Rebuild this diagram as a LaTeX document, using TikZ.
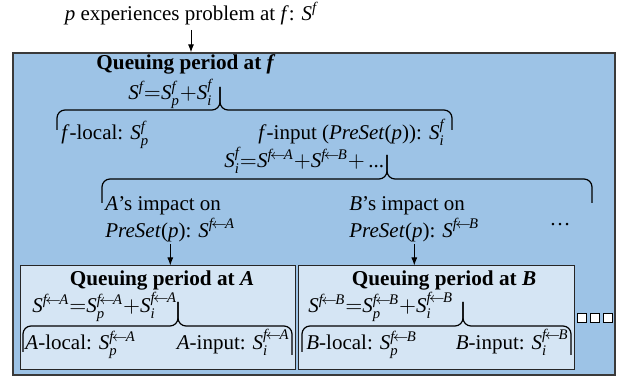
\documentclass[tikz,border=0pt]{standalone}
\usepackage{amsmath}
\usepackage{fontspec}
\setmainfont{Liberation Serif}
\usetikzlibrary{arrows.meta, positioning, fit}

\definecolor{outerblue}{HTML}{9DC3E6}
\definecolor{innerblue}{HTML}{D5E5F4}
\definecolor{edgegray}{HTML}{3A3A3A}

\newcommand{\mv}[1]{\textit{#1}}
\newcommand{\fA}{\mv{f}\mkern-2mu{\leftarrow}\mkern-2mu\mv{A}}
\newcommand{\fB}{\mv{f}\mkern-2mu{\leftarrow}\mkern-2mu\mv{B}}

\begin{document}
\begin{tikzpicture}[
    x=0.5pt, y=-0.5pt,
    every node/.style={font=\fontsize{10.5}{13.5}\selectfont, inner sep=0pt},
    outerbox/.style={draw=edgegray, fill=outerblue, line width=0.6pt, inner sep=0pt},
    innerbox/.style={draw=black!85, fill=innerblue, line width=0.5pt, inner sep=0pt},
    head/.style={font=\fontsize{10.6}{13.5}\selectfont\bfseries},
    arr/.style={-{Latex[length=4pt, width=3pt]}, line width=0.5pt},
    brc/.style={draw=black, line width=0.6pt, rounded corners=4pt},
    sq/.style={draw=black, line width=0.5pt, fill=white, minimum size=4.5pt},
]
\useasboundingbox (0,0) rectangle (628,379);

% boxes
\node[outerbox, fit={(13,53) (615,375)}] (outer) {};
\node[innerbox, fit={(20,266) (295,370)}] (qA) {};
\node[innerbox, fit={(298,266) (574,370)}] (qB) {};

% top level
\node[anchor=base] (prob) at (191,21) {\mv{p} experiences problem at \mv{f}: $\mv{S}^{\mv{f}}$};
\node[head, anchor=base] (qf) at (186,70) {Queuing period at \textit{f}};
\node[anchor=base west] (eqf) at (128,100) {$\mv{S}^{\mv{f}}{=}\mv{S}_{\mv{p}}^{\mv{f}}{+}\mv{S}_{\mv{i}}^{\mv{f}}$};
\node[anchor=base west] (floc) at (61,140) {\mv{f}-local: $\mv{S}_{\mv{p}}^{\mv{f}}$};
\node[anchor=base east] (finp) at (445,140) {\mv{f}-input (\mv{PreSet}(\mv{p})): $\mv{S}_{\mv{i}}^{\mv{f}}$};
\node[anchor=base west] (eqi) at (224,168) {$\mv{S}_{\mv{i}}^{\mv{f}}{=}\mv{S}^{\fA}{+}\mv{S}^{\fB}{+}$\,...};

\node[anchor=north west, align=left] (impA) at (105,196) {\mv{A}’s impact on\\\mv{PreSet}(\mv{p}): $\mv{S}^{\fA}$};
\node[anchor=north west, align=left] (impB) at (349,196) {\mv{B}’s impact on\\\mv{PreSet}(\mv{p}): $\mv{S}^{\fB}$};
\node (dots) at (560,225) {\ldots};

% queuing at A
\node[head, anchor=base] (qAt) at (162,286) {Queuing period at \textit{A}};
\node[anchor=base west] (eqA) at (32,313) {$\mv{S}^{\fA}{=}\mv{S}_{\mv{p}}^{\fA}{+}\mv{S}_{\mv{i}}^{\fA}$};
\node[anchor=base west] (Aloc) at (25,350) {\mv{A}-local: $\mv{S}_{\mv{p}}^{\fA}$};
\node[anchor=base east] (Ainp) at (290,350) {\mv{A}-input: $\mv{S}_{\mv{i}}^{\fA}$};

% queuing at B
\node[head, anchor=base] (qBt) at (444,286) {Queuing period at \textit{B}};
\node[anchor=base west] (eqB) at (308,313) {$\mv{S}^{\fB}{=}\mv{S}_{\mv{p}}^{\fB}{+}\mv{S}_{\mv{i}}^{\fB}$};
\node[anchor=base west] (Bloc) at (306,350) {\mv{B}-local: $\mv{S}_{\mv{p}}^{\fB}$};
\node[anchor=base east] (Binp) at (569,350) {\mv{B}-input: $\mv{S}_{\mv{i}}^{\fB}$};

\foreach \i in {0,1,2}
    \node[sq] (sq\i) at (581.5+13*\i,318.5) {};

% braces
\draw[brc] (57,130) -- (57,110) -- (220,110) -- (220,87);
\draw[brc] (220,87) -- (220,110) -- (452,110) -- (452,130);
\draw[brc] (102,203) -- (102,179) -- (387,179) -- (387,155);
\draw[brc] (387,155) -- (387,179) -- (592,179) -- (592,203);
\draw[brc] (23,352) -- (23,326) -- (178,326) -- (178,302);
\draw[brc] (178,302) -- (178,326) -- (292,326) -- (292,355);
\draw[brc] (302,352) -- (302,326) -- (463,326) -- (463,302);
\draw[brc] (463,302) -- (463,326) -- (571,326) -- (571,355);

% arrows
\draw[arr] ([yshift=-2pt]prob.south) -- (prob.south |- outer.north);
\draw[arr] ([yshift=-1pt]impA.south) -- (impA.south |- qA.north);
\draw[arr] ([yshift=-1pt]impB.south) -- (impB.south |- qB.north);

\end{tikzpicture}
\end{document}
